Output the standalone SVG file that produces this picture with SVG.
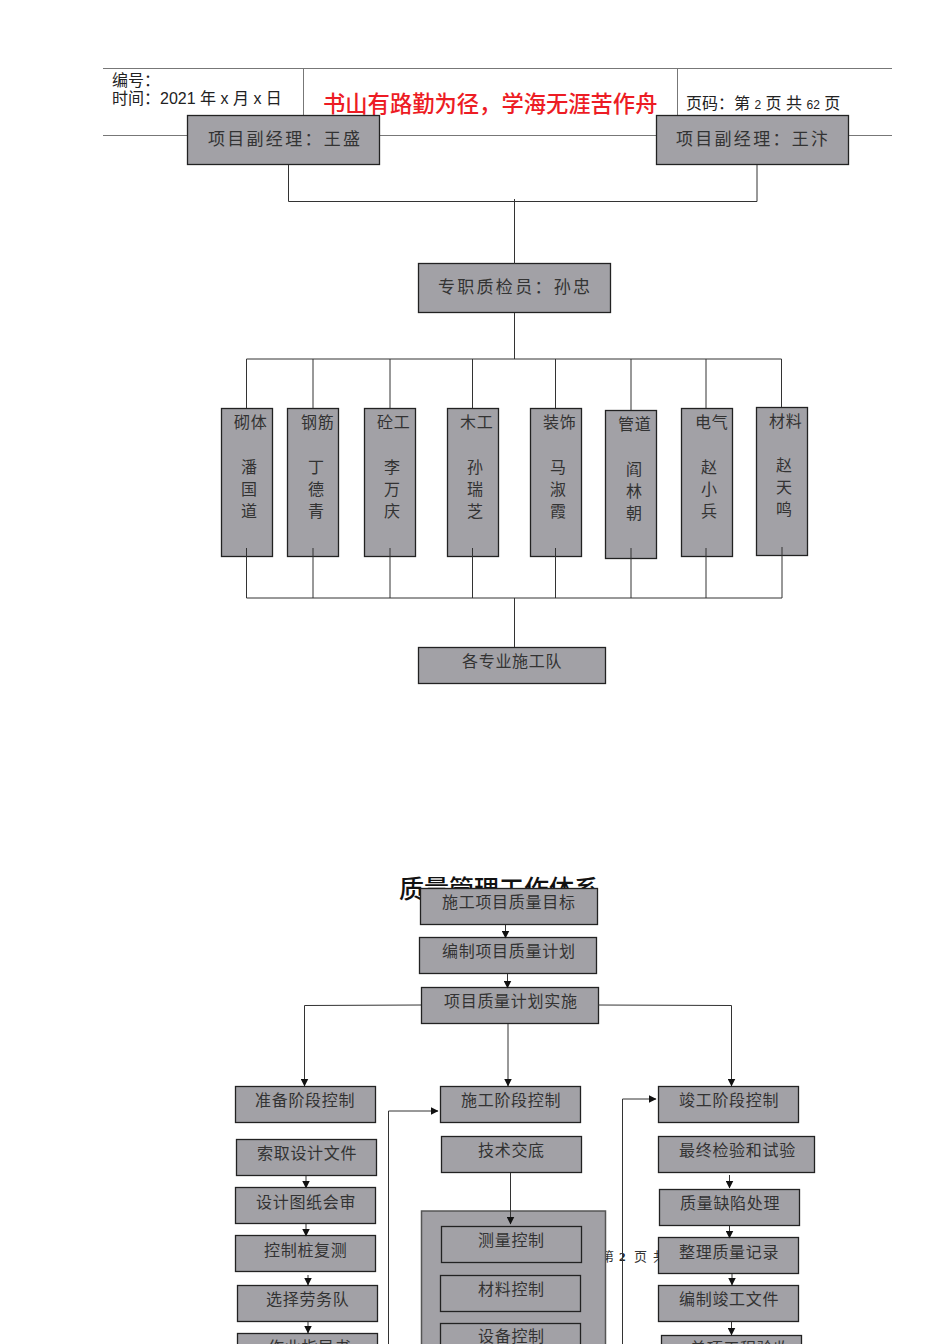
<svg xmlns="http://www.w3.org/2000/svg" width="950" height="1344" viewBox="0 0 950 1344">
<defs>
<marker id="ah" viewBox="0 0 8 8" refX="7.500" refY="4" markerWidth="8" markerHeight="8" markerUnits="userSpaceOnUse" orient="auto"><path d="M0 0L8 4L0 8Z" fill="#111"/></marker>
</defs>
<style>
.hl{stroke:#777;stroke-width:1;fill:none}
.c{stroke:#333;stroke-width:1;fill:none}
.a{stroke:#333;stroke-width:1;fill:none;marker-end:url(#ah)}
.b{fill:#a2a1a6;stroke:#222;stroke-width:1.300}
text{font-family:"Liberation Serif","Noto Sans CJK SC",serif;fill:#333}
.t{font-size:17px}
.m{font-size:16px;letter-spacing:.7px}
.h{font-family:"Liberation Sans","Noto Sans CJK SC",sans-serif;fill:#222;font-size:16px}
</style>
<rect width="950" height="1344" fill="#fff"/>
<g id="header">
<path class="hl" d="M103 68.500H892M103 135.500H892M303.500 68V135M677.500 68V135"/>
<text class="h" x="112" y="86">编号：</text>
<text class="h" x="112" y="104">时间：2021 年 x 月 x 日</text>
<text x="323" y="112" style="font-family:'Liberation Sans','Noto Sans CJK SC',sans-serif;font-size:22.300px;font-weight:500;fill:#ed1c24">书山有路勤为径，学海无涯苦作舟</text>
<text class="h" x="686" y="109">页码：第 <tspan font-size="12">2</tspan> 页  共 <tspan font-size="12">62</tspan> 页</text>
</g>
<g id="page-footer" font-size="13" fill="#444"><text x="601" y="1261">第</text><text x="619" y="1261" style="font-weight:700;fill:#222">2</text><text x="634" y="1261">页</text><text x="653" y="1261">共</text></g>
<text id="title" x="399" y="898" style="font-family:'Liberation Sans','Noto Sans CJK SC',sans-serif;font-size:25px;font-weight:500;fill:#111">质量管理工作体系</text>
<g id="n1"><rect class="b" x="187.500" y="115.500" width="192" height="49"/><text class="t" x="208" y="145" textLength="152">项目副经理：王盛</text></g>
<g id="n2"><rect class="b" x="656.500" y="115.500" width="192" height="49"/><text class="t" x="676" y="145" textLength="152">项目副经理：王汴</text></g>
<g id="n3"><rect class="b" x="418.500" y="263.500" width="192" height="49"/><text class="t" x="438" y="293" textLength="152">专职质检员：孙忠</text></g>
<g id="w1"><rect class="b" x="221.500" y="408.500" width="51" height="148"/><text class="m" x="234" y="428">砌体</text><text class="m" x="241" y="473">潘</text><text class="m" x="241" y="495">国</text><text class="m" x="241" y="517">道</text></g>
<g id="w2"><rect class="b" x="287.500" y="408.500" width="51" height="148"/><text class="m" x="301" y="428">钢筋</text><text class="m" x="308" y="473">丁</text><text class="m" x="308" y="495">德</text><text class="m" x="308" y="517">青</text></g>
<g id="w3"><rect class="b" x="364.500" y="408.500" width="51" height="148"/><text class="m" x="377" y="428">砼工</text><text class="m" x="384" y="473">李</text><text class="m" x="384" y="495">万</text><text class="m" x="384" y="517">庆</text></g>
<g id="w4"><rect class="b" x="447.500" y="408.500" width="51" height="148"/><text class="m" x="460" y="428">木工</text><text class="m" x="467" y="473">孙</text><text class="m" x="467" y="495">瑞</text><text class="m" x="467" y="517">芝</text></g>
<g id="w5"><rect class="b" x="530.500" y="408.500" width="51" height="148"/><text class="m" x="543" y="428">装饰</text><text class="m" x="550" y="473">马</text><text class="m" x="550" y="495">淑</text><text class="m" x="550" y="517">霞</text></g>
<g id="w6"><rect class="b" x="605.500" y="410.500" width="51" height="148"/><text class="m" x="618" y="430">管道</text><text class="m" x="626" y="475">阎</text><text class="m" x="626" y="497">林</text><text class="m" x="626" y="519">朝</text></g>
<g id="w7"><rect class="b" x="681.500" y="408.500" width="51" height="148"/><text class="m" x="695" y="428">电气</text><text class="m" x="701" y="473">赵</text><text class="m" x="701" y="495">小</text><text class="m" x="701" y="517">兵</text></g>
<g id="w8"><rect class="b" x="756.500" y="407.500" width="51" height="148"/><text class="m" x="769" y="427">材料</text><text class="m" x="776" y="471">赵</text><text class="m" x="776" y="493">天</text><text class="m" x="776" y="515">鸣</text></g>
<g id="team"><rect class="b" x="418.500" y="647.500" width="187" height="36"/><text class="m" x="462" y="667">各专业施工队</text></g>
<g id="q1"><rect class="b" x="420.500" y="888.500" width="177" height="36"/><text class="m" x="442" y="908">施工项目质量目标</text></g>
<g id="q2"><rect class="b" x="419.500" y="937.500" width="177" height="36"/><text class="m" x="442" y="957">编制项目质量计划</text></g>
<g id="q3"><rect class="b" x="421.500" y="987.500" width="177" height="36"/><text class="m" x="444" y="1007">项目质量计划实施</text></g>
<g id="a1"><rect class="b" x="235.500" y="1086.500" width="140" height="36"/><text class="m" x="255" y="1106">准备阶段控制</text></g>
<g id="a2"><rect class="b" x="236.500" y="1139.500" width="140" height="36"/><text class="m" x="257" y="1159">索取设计文件</text></g>
<g id="a3"><rect class="b" x="235.500" y="1187.500" width="140" height="36"/><text class="m" x="256" y="1208">设计图纸会审</text></g>
<g id="a4"><rect class="b" x="235.500" y="1235.500" width="140" height="36"/><text class="m" x="264" y="1256">控制桩复测</text></g>
<g id="a5"><rect class="b" x="237.500" y="1285.500" width="140" height="36"/><text class="m" x="266" y="1305">选择劳务队</text></g>
<g id="a6"><rect class="b" x="237.500" y="1333.500" width="140" height="36"/><text class="m" x="268" y="1353">作业指导书</text></g>
<g id="b1"><rect class="b" x="440.500" y="1086.500" width="140" height="36"/><text class="m" x="461" y="1106">施工阶段控制</text></g>
<g id="b2"><rect class="b" x="441.500" y="1136.500" width="140" height="36"/><text class="m" x="478" y="1156">技术交底</text></g>
<g id="b3"><rect x="421.500" y="1211" width="184" height="150" fill="#a2a1a6" stroke="#555" stroke-width="1.500"/>
<rect class="b" x="441.500" y="1226.500" width="140" height="36"/><text class="m" x="478" y="1246">测量控制</text></g>
<g id="b4"><rect class="b" x="440.500" y="1275.500" width="140" height="36"/><text class="m" x="478" y="1295">材料控制</text></g>
<g id="b5"><rect class="b" x="440.500" y="1323.500" width="140" height="36"/><text class="m" x="478" y="1342">设备控制</text></g>
<g id="c1"><rect class="b" x="658.500" y="1086.500" width="140" height="36"/><text class="m" x="679" y="1106">竣工阶段控制</text></g>
<g id="c2"><rect class="b" x="658.500" y="1136.500" width="156" height="36"/><text class="m" x="679" y="1156">最终检验和试验</text></g>
<g id="c3"><rect class="b" x="659.500" y="1189.500" width="140" height="36"/><text class="m" x="680" y="1209">质量缺陷处理</text></g>
<g id="c4"><rect class="b" x="658.500" y="1237.500" width="140" height="36"/><text class="m" x="679" y="1258">整理质量记录</text></g>
<g id="c5"><rect class="b" x="658.500" y="1285.500" width="140" height="36"/><text class="m" x="679" y="1305">编制竣工文件</text></g>
<g id="c6"><rect class="b" x="661.500" y="1335.500" width="140" height="36"/><text class="m" x="690" y="1354">单项工程验收</text></g>
<g id="connectors">
<path class="c" d="M288.500 165V201.500H757V165M514.500 199V264M514.500 313V359M246.500 359H781.500M246.500 359V408M313 359V408M390 359V408M472.500 359V408M555.500 359V408M631 359V410M706 359V408M781.500 359V407"/>
<path class="c" d="M246.500 548V598H782V547M313 548V598M390 548V598M472.500 548V598M555.500 548V598M631 548V598M706 548V598M514.500 598V647"/>
<path class="a" d="M505.500 925V938"/>
<path class="a" d="M507.500 974V988"/>
<path class="a" d="M421 1005L304.500 1005.500V1086"/>
<path class="a" d="M508 1024V1086"/>
<path class="a" d="M598 1005L731.500 1005.500V1086"/>
<path class="a" d="M306 1176V1188"/>
<path class="a" d="M306 1224V1236"/>
<path class="a" d="M308 1275V1285"/>
<path class="a" d="M308 1322V1333"/>
<path class="a" d="M510.500 1173V1224"/>
<path class="a" d="M729.500 1175V1188"/>
<path class="a" d="M729.500 1226V1238"/>
<path class="a" d="M732 1274V1285"/>
<path class="a" d="M731.500 1322V1335"/>
<path class="a" d="M388.500 1344V1111L438 1111"/>
<path class="a" d="M622.500 1344V1099H656"/>
</g>
</svg>
